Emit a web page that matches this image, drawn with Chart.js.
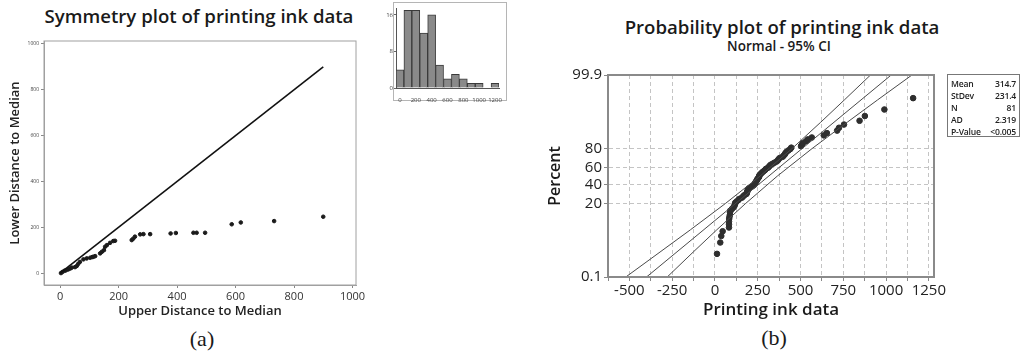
<!DOCTYPE html>
<html>
<head>
<meta charset="utf-8">
<script src="https://cdn.jsdelivr.net/npm/chart.js@4/dist/chart.umd.min.js"></script>
<style>
    body { margin: 0; width: 1024px; height: 352px; background: #fff; overflow: hidden; position: relative; font-family: 'Open Sans', sans-serif; }
    canvas { position: absolute; }
    .lbl { position: absolute; transform: translate(-50%, -50%); white-space: nowrap; line-height: 1; color: #1a1a1a; }
    .title { font-size: 18.6px; font-weight: 600; }
    .sub { font-size: 13.5px; font-weight: 600; }
    .tag { font-family: 'Liberation Serif', 'DejaVu Serif', serif; font-size: 22px; }
    #hist-box { position: absolute; left: 393px; top: 2px; width: 112px; height: 97px; border: 1px solid #b5b5b5; }
    #stats { position: absolute; left: 947px; top: 74px; width: 73px; height: 63px; border: 1px solid #777; font-size: 8.6px; font-weight: 600; color: #222; padding: 3px 3px 0 3px; box-sizing: border-box; z-index: 5; background: #fff; letter-spacing: -0.2px; }
    #stats div { display: flex; justify-content: space-between; height: 12px; line-height: 12px; }
</style>
</head>
<body>
<div class="lbl title" style="left:199px; top:16px;">Symmetry plot of printing ink data</div>
<div class="lbl title" style="left:782px; top:27px;">Probability plot of printing ink data</div>
<div class="lbl sub" style="left:779px; top:47px;">Normal - 95% CI</div>
<div class="lbl tag" style="left:202px; top:339px;">(a)</div>
<div class="lbl tag" style="left:774px; top:338px;">(b)</div>

<canvas id="sym-chart" width="380" height="330" style="left:0; top:0;"></canvas>
<div id="hist-box"></div>
<canvas id="hist-chart" width="135" height="105" style="left:380px; top:0;"></canvas>
<canvas id="prob-chart" width="420" height="330" style="left:530px; top:0;"></canvas>

<div id="stats">
    <div><span>Mean</span><span>314.7</span></div>
    <div><span>StDev</span><span>231.4</span></div>
    <div><span>N</span><span>81</span></div>
    <div><span>AD</span><span>2.319</span></div>
    <div><span>P-Value</span><span>&lt;0.005</span></div>
</div>

<script>
// Symmetry plot: distances of paired order statistics from the median
const symUpper = [3, 8, 15, 20, 28, 35, 40, 51, 57, 62, 68, 80, 91, 103, 110, 114, 120, 137, 143, 150,
    154, 160, 171, 182, 188, 245, 250, 256, 274, 285, 308, 378, 396, 456, 467, 496, 587, 618, 732, 900];
const symLower = [0, 5, 10, 12, 16, 20, 24, 26, 31, 40, 49, 60, 64, 67, 70, 71, 74, 86, 93, 100,
    115, 122, 132, 140, 141, 144, 150, 159, 169, 170, 170, 173, 175, 176, 176, 176, 213, 221, 227, 246];
const symLine = [0, 900];

// Histogram inset
const histBins = ['0', '100', '200', '300', '400', '500', '600', '700', '800', '900', '1000', '1100', '1200'];
const histCounts = [4, 17, 17, 12, 16, 5, 2, 3, 2, 1, 1, 0, 1];

// Probability plot: sorted data and plotted percents
const probX = [12, 31, 37, 45, 82, 82, 82, 83, 85, 88, 88, 89, 99, 108, 114, 117, 118, 126, 136, 143,
    158, 165, 172, 184, 187, 188, 191, 194, 198, 209, 218, 227, 232, 234, 238, 242, 246, 248, 253, 258,
    258, 261, 266, 273, 278, 286, 293, 298, 309, 315, 320, 326, 338, 349, 361, 368, 372, 378, 395, 401,
    408, 412, 418, 429, 440, 446, 503, 508, 514, 532, 543, 566, 636, 654, 714, 725, 754, 845, 876, 990, 1158];
const probPct = [0.86, 2.09, 3.32, 4.55, 5.77, 7.00, 8.23, 9.46, 10.69, 11.92, 13.14, 14.37, 15.60, 16.83,
    18.06, 19.29, 20.52, 21.74, 22.97, 24.20, 25.43, 26.66, 27.89, 29.12, 30.34, 31.57, 32.80, 34.03,
    35.26, 36.49, 37.71, 38.94, 40.17, 41.40, 42.63, 43.86, 45.09, 46.31, 47.54, 48.77, 50.00, 51.23,
    52.46, 53.69, 54.91, 56.14, 57.37, 58.60, 59.83, 61.06, 62.29, 63.51, 64.74, 65.97, 67.20, 68.43,
    69.66, 70.88, 72.11, 73.34, 74.57, 75.80, 77.03, 78.26, 79.48, 80.71, 81.94, 83.17, 84.40, 85.63,
    86.86, 88.08, 89.31, 90.54, 91.77, 93.00, 94.23, 95.45, 96.68, 97.91, 99.14];
const fitPct = [0.1, 99.9];
const fitX = [-400, 1030];
const ciPct = [0.1, 1, 5, 20, 50, 80, 95, 99, 99.9];
const ciLow = [-521, -321, -143, 61, 264, 451, 618, 756, 909];
const ciHigh = [-279, -127, 11, 179, 365, 568, 773, 950, 1151];
const pctTicks = [0.1, 20, 40, 60, 80, 99.9];

const FONT = "'Open Sans', sans-serif";

// Inverse of the normal CDF (Acklam), used by the probability axis
function probit(p) {
    const a = [-39.69683028665376, 220.9460984245205, -275.9285104469687, 138.3577518672690, -30.66479806614716, 2.506628277459239];
    const b = [-54.47609879822406, 161.5858368580409, -155.6989798598866, 66.80131188771972, -13.28068155288572];
    const c = [-0.007784894002430293, -0.3223964580411365, -2.400758277161838, -2.549732539343734, 4.374664141464968, 2.938163982698783];
    const d = [0.007784695709041462, 0.3224671290700398, 2.445134137142996, 3.754408661907416];
    if (p < 0.02425) {
        const q = Math.sqrt(-2 * Math.log(p));
        return (((((c[0]*q+c[1])*q+c[2])*q+c[3])*q+c[4])*q+c[5]) / ((((d[0]*q+d[1])*q+d[2])*q+d[3])*q+1);
    }
    if (p > 1 - 0.02425) {
        const q = Math.sqrt(-2 * Math.log(1 - p));
        return -(((((c[0]*q+c[1])*q+c[2])*q+c[3])*q+c[4])*q+c[5]) / ((((d[0]*q+d[1])*q+d[2])*q+d[3])*q+1);
    }
    const q = p - 0.5, r = q * q;
    return (((((a[0]*r+a[1])*r+a[2])*r+a[3])*r+a[4])*r+a[5])*q / (((((b[0]*r+b[1])*r+b[2])*r+b[3])*r+b[4])*r+1);
}

// Normal probability scale (values in percent)
class ProbitScale extends Chart.LinearScale {
    static id = 'probit';
    determineDataLimits() {
        this.min = 0.1;
        this.max = 99.9;
    }
    buildTicks() {
        return pctTicks.map(v => ({ value: v }));
    }
    getPixelForValue(value) {
        const z0 = probit(this.min / 100), z1 = probit(this.max / 100);
        return this.getPixelForDecimal((probit(value / 100) - z0) / (z1 - z0));
    }
    getValueForPixel(pixel) {
        let lo = this.min, hi = this.max;
        for (let i = 0; i < 40; i++) {
            const mid = (lo + hi) / 2;
            if (this.getPixelForValue(mid) > pixel) lo = mid; else hi = mid;
        }
        return (lo + hi) / 2;
    }
}
Chart.register(ProbitScale);

// Box around the plot area
function framePlugin(color, width) {
    return {
        id: 'frame',
        afterDraw(chart) {
            const { ctx, chartArea: a } = chart;
            ctx.save();
            ctx.strokeStyle = color;
            ctx.lineWidth = width;
            ctx.strokeRect(a.left, a.top, a.right - a.left, a.bottom - a.top);
            ctx.restore();
        }
    };
}

const noLegend = { legend: { display: false }, tooltip: { enabled: false } };

// Symmetry plot
new Chart(document.getElementById('sym-chart').getContext('2d'), {
    type: 'scatter',
    data: {
        datasets: [{
            data: symLine.map(v => ({ x: v, y: v })),
            showLine: true,
            borderColor: '#111',
            borderWidth: 1.6,
            pointRadius: 0
        }, {
            data: symUpper.map((u, i) => ({ x: u, y: symLower[i] })),
            backgroundColor: '#1a1a1a',
            borderColor: '#1a1a1a',
            pointRadius: 1.8
        }]
    },
    options: {
        responsive: false,
        animation: false,
        events: [],
        layout: { padding: { top: 41, right: 24, left: 0, bottom: 0 } },
        plugins: noLegend,
        scales: {
            x: {
                type: 'linear', min: -55, max: 1012,
                afterFit: s => { s.height = 45; },
                ticks: { stepSize: 200, includeBounds: false, maxRotation: 0, padding: 2, color: '#333',
                    font: { family: FONT, size: 11 }, callback: v => String(v) },
                grid: { drawOnChartArea: false, tickLength: 3, color: '#888' },
                border: { color: '#a0a0a0' },
                title: { display: true, text: 'Upper Distance to Median', color: '#222',
                    font: { family: FONT, size: 13, weight: '600' }, padding: { top: 0, bottom: 11 } }
            },
            y: {
                type: 'linear', min: -52, max: 1013,
                afterFit: s => { s.width = 44; },
                ticks: { stepSize: 200, includeBounds: false, padding: 2, color: '#444',
                    font: { family: FONT, size: 5 }, callback: v => String(v) },
                grid: { drawOnChartArea: false, tickLength: 3, color: '#888' },
                border: { color: '#a0a0a0' },
                title: { display: true, text: 'Lower Distance to Median', color: '#222',
                    font: { family: FONT, size: 13, weight: '600' }, padding: { top: 7, bottom: 0 } }
            }
        }
    },
    plugins: [framePlugin('#a0a0a0', 1)]
});

// Histogram inset
new Chart(document.getElementById('hist-chart').getContext('2d'), {
    type: 'bar',
    data: {
        labels: histBins,
        datasets: [{
            data: histCounts,
            backgroundColor: '#8a8a8a',
            borderColor: '#3a3a3a',
            borderWidth: 1,
            barPercentage: 1,
            categoryPercentage: 1
        }]
    },
    options: {
        responsive: false,
        animation: false,
        events: [],
        layout: { padding: { top: 8, right: 16, left: 0, bottom: 0 } },
        plugins: noLegend,
        scales: {
            x: {
                afterFit: s => { s.height = 17; },
                ticks: { autoSkip: false, maxRotation: 0, padding: 1, color: '#444', font: { family: FONT, size: 6 },
                    callback: function(v, i) { return i % 2 === 0 ? this.getLabelForValue(v) : ''; } },
                grid: { display: false },
                border: { color: '#555' }
            },
            y: {
                min: 0, max: 17.5,
                afterFit: s => { s.width = 16; },
                ticks: { stepSize: 8, includeBounds: false, padding: 1, color: '#444', font: { family: FONT, size: 6 } },
                grid: { drawOnChartArea: false, tickLength: 2, color: '#666' },
                border: { color: '#555' }
            }
        }
    }
});

// Probability plot
const lineStyle = { showLine: true, borderColor: '#4a4a4a', borderWidth: 1, pointRadius: 0 };
new Chart(document.getElementById('prob-chart').getContext('2d'), {
    type: 'scatter',
    data: {
        datasets: [
            Object.assign({ data: ciLow.map((x, i) => ({ x: x, y: ciPct[i] })) }, lineStyle),
            Object.assign({ data: fitX.map((x, i) => ({ x: x, y: fitPct[i] })) }, lineStyle),
            Object.assign({ data: ciHigh.map((x, i) => ({ x: x, y: ciPct[i] })) }, lineStyle),
            {
                data: probX.map((x, i) => ({ x: x, y: probPct[i] })),
                backgroundColor: '#2e2e2e',
                borderColor: '#2e2e2e',
                pointRadius: 2.8
            }
        ]
    },
    options: {
        responsive: false,
        animation: false,
        events: [],
        layout: { padding: { top: 75, right: 16, left: 0, bottom: 0 } },
        plugins: noLegend,
        scales: {
            x: {
                type: 'linear', min: -625, max: 1280,
                afterFit: s => { s.height = 53; },
                ticks: { stepSize: 125, includeBounds: false, autoSkip: false, maxRotation: 0, padding: 1, color: '#222',
                    font: { family: FONT, size: 15 }, callback: v => (v % 250 === 0 ? String(v) : '') },
                grid: { color: '#c4c4c4', tickLength: 4, tickColor: '#888' },
                border: { color: '#888', dash: [4, 3] },
                title: { display: true, text: 'Printing ink data', color: '#1a1a1a',
                    font: { family: FONT, size: 17, weight: '600' }, padding: { top: 0, bottom: 10 } }
            },
            y: {
                type: 'probit',
                afterFit: s => { s.width = 78; },
                ticks: { autoSkip: false, padding: 2, color: '#222', font: { family: FONT, size: 15 },
                    callback: v => String(v) },
                grid: { color: '#c4c4c4', tickLength: 4, tickColor: '#888' },
                border: { color: '#888', dash: [4, 3] },
                title: { display: true, text: 'Percent', color: '#1a1a1a',
                    font: { family: FONT, size: 16, weight: '600' }, padding: { top: 16, bottom: 0 } }
            }
        }
    },
    plugins: [framePlugin('#8a8a8a', 2)]
});
</script>
</body>
</html>
